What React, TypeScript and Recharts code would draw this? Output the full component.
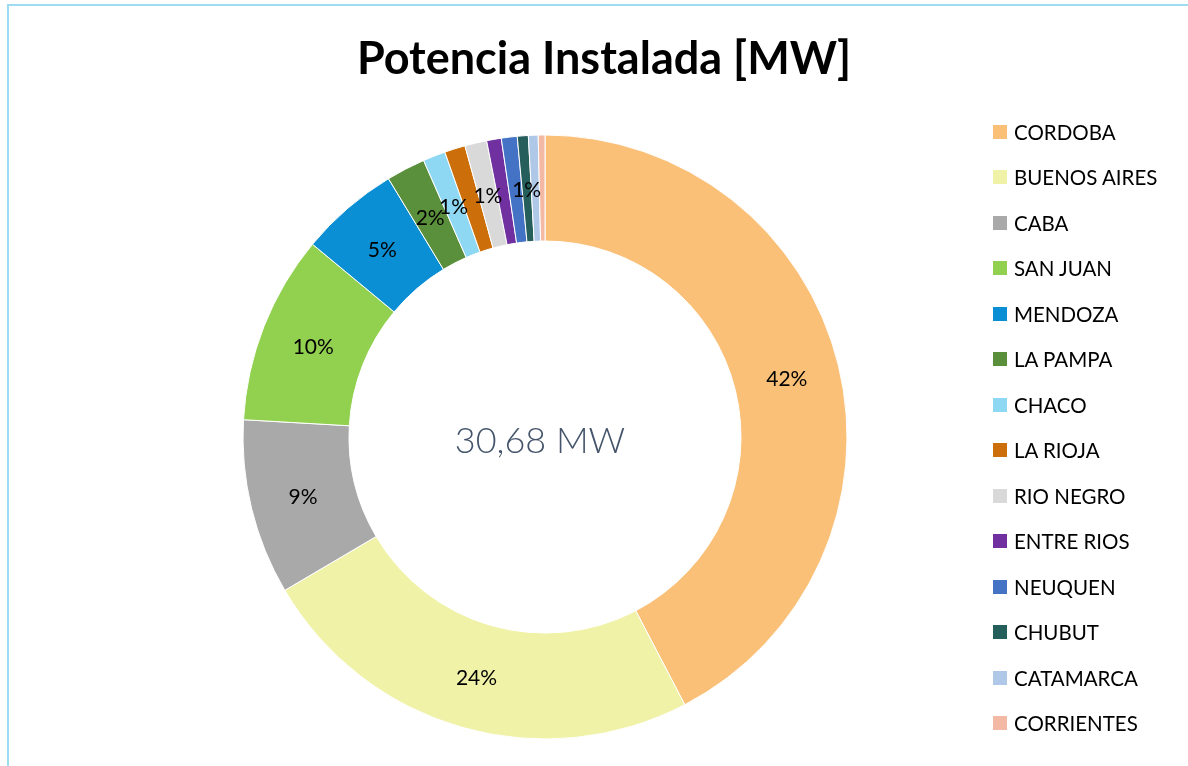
import React from "react";
import { PieChart, Pie, Cell, Legend } from "recharts";

// provincias y potencia instalada [MW]
const provinces = [
  "CORDOBA",
  "BUENOS AIRES",
  "CABA",
  "SAN JUAN",
  "MENDOZA",
  "LA PAMPA",
  "CHACO",
  "LA RIOJA",
  "RIO NEGRO",
  "ENTRE RIOS",
  "NEUQUEN",
  "CHUBUT",
  "CATAMARCA",
  "CORRIENTES",
];
const powerMW = [12.99, 7.42, 2.88, 3.1, 1.63, 0.64, 0.37, 0.34, 0.36, 0.24, 0.26, 0.18, 0.16, 0.11];
const colors = [
  "#fac078",
  "#f0f2a8",
  "#a9a9a9",
  "#92d050",
  "#0b8fd4",
  "#5a8f3c",
  "#8fd8f3",
  "#cc6f0a",
  "#d9d9d9",
  "#7030a0",
  "#4472c4",
  "#255e5b",
  "#afc8e8",
  "#f4b9a4",
];
// only these slices carry a data label in the original
const labeled = ["CORDOBA", "BUENOS AIRES", "CABA", "SAN JUAN", "MENDOZA", "LA PAMPA", "CHACO", "RIO NEGRO", "CHUBUT"];
const totalLabel = "30,68 MW";

const data = provinces.map((name, i) => ({ name, value: powerMW[i] }));

const FONT = "Lato, 'Noto Sans', sans-serif";
const RADIAN = Math.PI / 180;

const renderLabel = (props: any) => {
  const { cx, cy, midAngle, innerRadius, outerRadius, percent, name } = props;
  if (!labeled.includes(name)) return null;
  const r = (innerRadius + outerRadius) / 2;
  const x = cx + r * Math.cos(-midAngle * RADIAN);
  const y = cy + r * Math.sin(-midAngle * RADIAN);
  return (
    <text x={x} y={y} textAnchor="middle" dominantBaseline="central" fill="#000" fontSize={21} fontFamily={FONT}>
      {`${Math.round(percent * 100)}%`}
    </text>
  );
};

// legend keeps the series order (recharts would sort it)
const renderLegend = () => (
  <ul style={{ listStyle: "none", margin: 0, padding: 0, fontFamily: FONT }}>
    {provinces.map((name, i) => (
      <li key={name} style={{ display: "flex", alignItems: "center", height: 45.5 }}>
        <span style={{ width: 14, height: 14, background: colors[i], marginRight: 7, display: "inline-block" }} />
        <span style={{ fontSize: 20.5, color: "#000" }}>{name}</span>
      </li>
    ))}
  </ul>
);

export default function App() {
  return (
    <div style={{ position: "relative", width: 1180, height: 758 }}>
      <div
        style={{
          position: "fixed",
          left: 7,
          top: 4,
          right: 0,
          bottom: 0,
          borderLeft: "2px solid #9edcf3",
          borderTop: "2px solid #9edcf3",
          pointerEvents: "none",
        }}
      />
      <div
        style={{
          position: "absolute",
          left: 0,
          top: 22,
          width: 1192,
          textAlign: "center",
          fontFamily: FONT,
          fontWeight: 700,
          fontSize: 45,
          color: "#000",
        }}
      >
        Potencia Instalada [MW]
      </div>
      <div
        style={{
          position: "absolute",
          left: 332,
          top: 409,
          width: 400,
          textAlign: "center",
          fontFamily: FONT,
          fontWeight: 300,
          fontSize: 36,
          color: "#44546a",
          pointerEvents: "none",
        }}
      >
        {totalLabel}
      </div>
      <PieChart width={1180} height={758}>
        <Pie
          data={data}
          dataKey="value"
          nameKey="name"
          cx={532}
          cy={424}
          innerRadius={196}
          outerRadius={302}
          startAngle={90}
          endAngle={-270}
          stroke="#ffffff"
          strokeWidth={1}
          label={renderLabel}
          labelLine={false}
          isAnimationActive={false}
        >
          {data.map((d, i) => (
            <Cell key={d.name} fill={colors[i]} />
          ))}
        </Pie>
        <Legend
          content={renderLegend}
          layout="vertical"
          verticalAlign="top"
          align="right"
          wrapperStyle={{ position: "absolute", left: 985, top: 101, width: 195 }}
        />
      </PieChart>
    </div>
  );
}
